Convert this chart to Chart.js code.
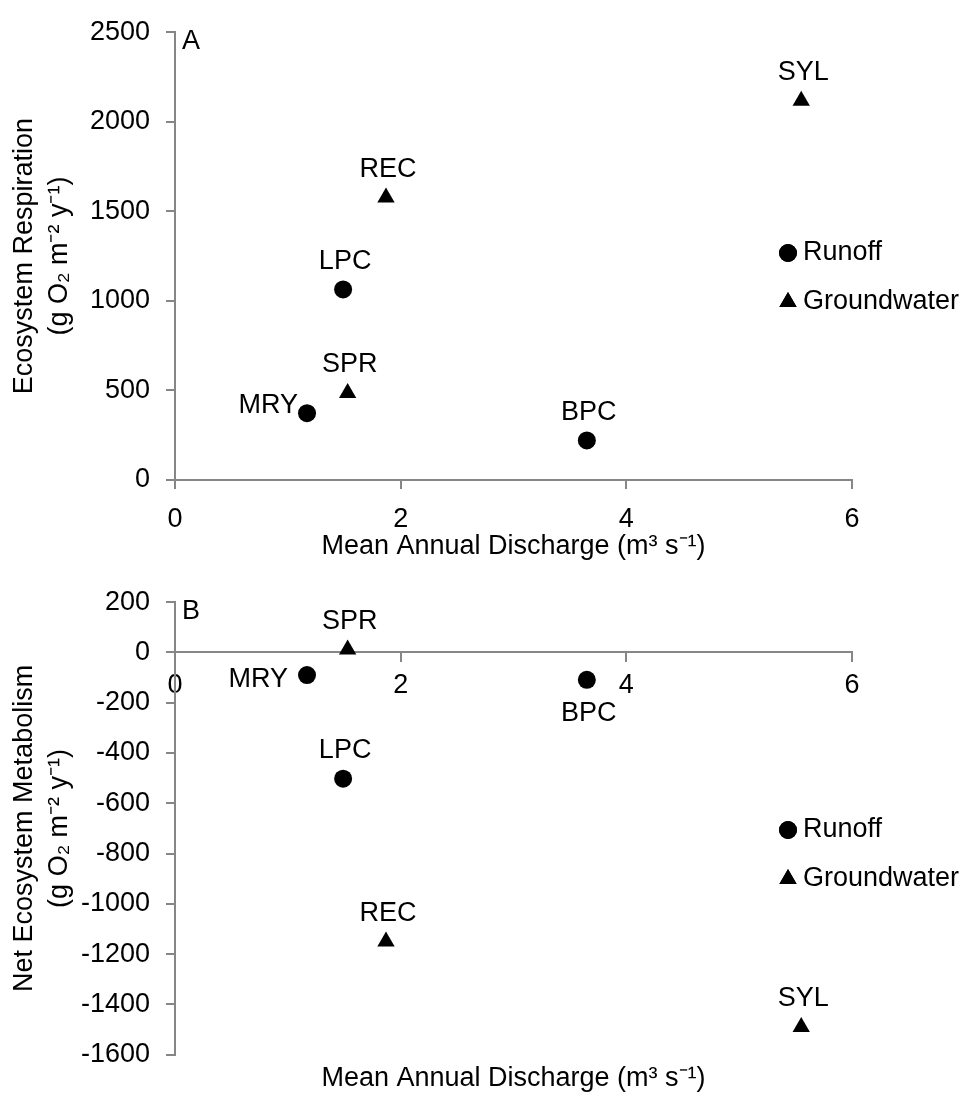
<!DOCTYPE html>
<html>
<head>
<meta charset="utf-8">
<script src="https://cdn.jsdelivr.net/npm/chart.js@4.4.1/dist/chart.umd.min.js"></script>
<style>
  body { margin: 0; background: #fff; }
  canvas { position: absolute; left: 0; }
  #chartA { top: 0; }
  #chartB { top: 570px; }
</style>
</head>
<body>
<canvas id="chartA" width="971" height="570"></canvas>
<canvas id="chartB" width="971" height="527"></canvas>
<script>
// site data, grouped by water source
const runoffSites = ['MRY', 'LPC', 'BPC'];
const runoffDischarge = [1.17, 1.49, 3.65];
const runoffER = [373, 1064, 221];
const runoffNEM = [-90, -502, -109];

const groundwaterSites = ['SPR', 'REC', 'SYL'];
const groundwaterDischarge = [1.53, 1.87, 5.55];
const groundwaterER = [486, 1577, 2117];
const groundwaterNEM = [12, -1150, -1490];

const xTicks = [0, 2, 4, 6];
const erTicks = [0, 500, 1000, 1500, 2000, 2500];
const nemTicks = [200, 0, -200, -400, -600, -800, -1000, -1200, -1400, -1600];

const FONT = "'Liberation Sans', Arial, sans-serif";
const AXIS_GREY = '#868686';
const xTitle = 'Mean Annual Discharge (m\u00B3 s\u207B\u00B9)';

function points(xs, ys) {
    return xs.map((x, i) => ({ x: x, y: ys[i] }));
}

// where the site name sits relative to its marker
const labelPlace = {
    A: { MRY: 'upleft', LPC: 'above', BPC: 'above', SPR: 'above', REC: 'above', SYL: 'above' },
    B: { MRY: 'left', LPC: 'above', BPC: 'below', SPR: 'above', REC: 'above', SYL: 'above' }
};

const siteLabels = {
    id: 'siteLabels',
    afterDatasetsDraw(chart, args, opts) {
        const ctx = chart.ctx;
        ctx.save();
        ctx.font = '27px ' + FONT;
        ctx.fillStyle = '#000';
        ctx.textBaseline = 'middle';
        chart.data.datasets.forEach((ds, di) => {
            chart.getDatasetMeta(di).data.forEach((pt, i) => {
                const name = ds.names[i];
                const side = labelPlace[opts.panel][name];
                if (side === 'above') {
                    ctx.textAlign = 'center';
                    ctx.fillText(name, pt.x + 2, pt.y - 28);
                } else if (side === 'below') {
                    ctx.textAlign = 'center';
                    ctx.fillText(name, pt.x + 2, pt.y + 34);
                } else if (side === 'upleft') {
                    ctx.textAlign = 'right';
                    ctx.fillText(name, pt.x - 9, pt.y - 8);
                } else {
                    ctx.textAlign = 'right';
                    ctx.fillText(name, pt.x - 19, pt.y + 4);
                }
            });
        });
        ctx.restore();
    }
};

// legend drawn inside the plot, plus the panel letter
const panelDecor = {
    id: 'panelDecor',
    afterDraw(chart, args, opts) {
        const ctx = chart.ctx;
        const area = chart.chartArea;
        ctx.save();
        ctx.font = '27px ' + FONT;
        ctx.fillStyle = '#000';
        ctx.textBaseline = 'middle';
        ctx.textAlign = 'left';
        ctx.fillText(opts.letter, area.left + 7, area.top + 9);
        chart.data.datasets.forEach((ds, di) => {
            const y = opts.legendTop + di * 49;
            Chart.helpers.drawPoint(ctx, {
                pointStyle: ds.pointStyle,
                radius: ds.pointRadius,
                borderWidth: 0
            }, opts.legendX, y);
            ctx.fillStyle = '#000';
            ctx.fill();
            ctx.fillText(ds.label, opts.legendX + 15, y);
        });
        ctx.restore();
    }
};

function datasets(runoffY, groundwaterY) {
    return [
        {
            label: 'Runoff',
            names: runoffSites,
            data: points(runoffDischarge, runoffY),
            pointStyle: 'circle',
            pointRadius: 9,
            backgroundColor: '#000',
            borderColor: '#000',
            borderWidth: 0
        },
        {
            label: 'Groundwater',
            names: groundwaterSites,
            data: points(groundwaterDischarge, groundwaterY),
            pointStyle: 'triangle',
            pointRadius: 10,
            backgroundColor: '#000',
            borderColor: '#000',
            borderWidth: 0
        }
    ];
}

function axisStyle() {
    return {
        grid: { drawOnChartArea: false, drawTicks: true, tickLength: 9, color: AXIS_GREY, lineWidth: 2 },
        border: { display: true, color: AXIS_GREY, width: 2 }
    };
}

// plain numbers, no thousands separator
const plain = v => String(v);
const tickFont = { family: FONT, size: 27 };
const titleFont = { family: FONT, size: 27, lineHeight: 1.3 };

// panel A: ecosystem respiration
new Chart(document.getElementById('chartA'), {
    type: 'scatter',
    data: { datasets: datasets(runoffER, groundwaterER) },
    options: {
        responsive: false,
        animation: false,
        layout: { padding: { left: 0, top: 17, right: 119, bottom: 0 } },
        plugins: {
            legend: { display: false },
            tooltip: { enabled: false },
            siteLabels: { panel: 'A' },
            panelDecor: { letter: 'A', legendX: 788, legendTop: 253 }
        },
        scales: {
            x: {
                type: 'linear',
                min: 0, max: 6,
                afterBuildTicks: s => { s.ticks = xTicks.map(v => ({ value: v })); },
                ticks: { font: tickFont, color: '#000', padding: 14, callback: plain },
                title: { display: true, text: xTitle, font: titleFont, color: '#000', padding: { top: 0, bottom: 6 } },
                afterFit: s => { s.height = 90; },
                ...axisStyle()
            },
            y: {
                min: 0, max: 2500,
                afterBuildTicks: s => { s.ticks = erTicks.map(v => ({ value: v })); },
                ticks: { font: tickFont, color: '#000', padding: 16, callback: plain },
                title: {
                    display: true,
                    text: ['Ecosystem Respiration', '(g O\u2082 m\u207B\u00B2 y\u207B\u00B9)'],
                    font: titleFont, color: '#000', padding: { top: 7, bottom: 0 }
                },
                afterFit: s => { s.width = 175; },
                ...axisStyle()
            }
        }
    },
    plugins: [siteLabels, panelDecor]
});

// panel B: net ecosystem metabolism, x axis crossing at zero
new Chart(document.getElementById('chartB'), {
    type: 'scatter',
    data: { datasets: datasets(runoffNEM, groundwaterNEM) },
    options: {
        responsive: false,
        animation: false,
        layout: { padding: { left: 0, top: 24, right: 119, bottom: 0 } },
        plugins: {
            legend: { display: false },
            tooltip: { enabled: false },
            title: {
                display: true,
                position: 'bottom',
                fullSize: false,
                text: xTitle,
                color: '#000',
                font: { family: FONT, size: 27, weight: 'normal', lineHeight: 1.2 },
                padding: { top: 8, bottom: 2 }
            },
            siteLabels: { panel: 'B' },
            panelDecor: { letter: 'B', legendX: 788, legendTop: 260 }
        },
        scales: {
            x: {
                type: 'linear',
                position: { y: 0 },
                min: 0, max: 6,
                afterBuildTicks: s => { s.ticks = xTicks.map(v => ({ value: v })); },
                ticks: { font: tickFont, color: '#000', padding: 8, callback: plain },
                ...axisStyle()
            },
            y: {
                min: -1600, max: 200,
                afterBuildTicks: s => { s.ticks = nemTicks.map(v => ({ value: v })); },
                ticks: { font: tickFont, color: '#000', padding: 16, callback: plain },
                title: {
                    display: true,
                    text: ['Net Ecosystem Metabolism', '(g O\u2082 m\u207B\u00B2 y\u207B\u00B9)'],
                    font: titleFont, color: '#000', padding: { top: 7, bottom: 0 }
                },
                afterFit: s => { s.width = 175; },
                ...axisStyle()
            }
        }
    },
    plugins: [siteLabels, panelDecor]
});
</script>
</body>
</html>
